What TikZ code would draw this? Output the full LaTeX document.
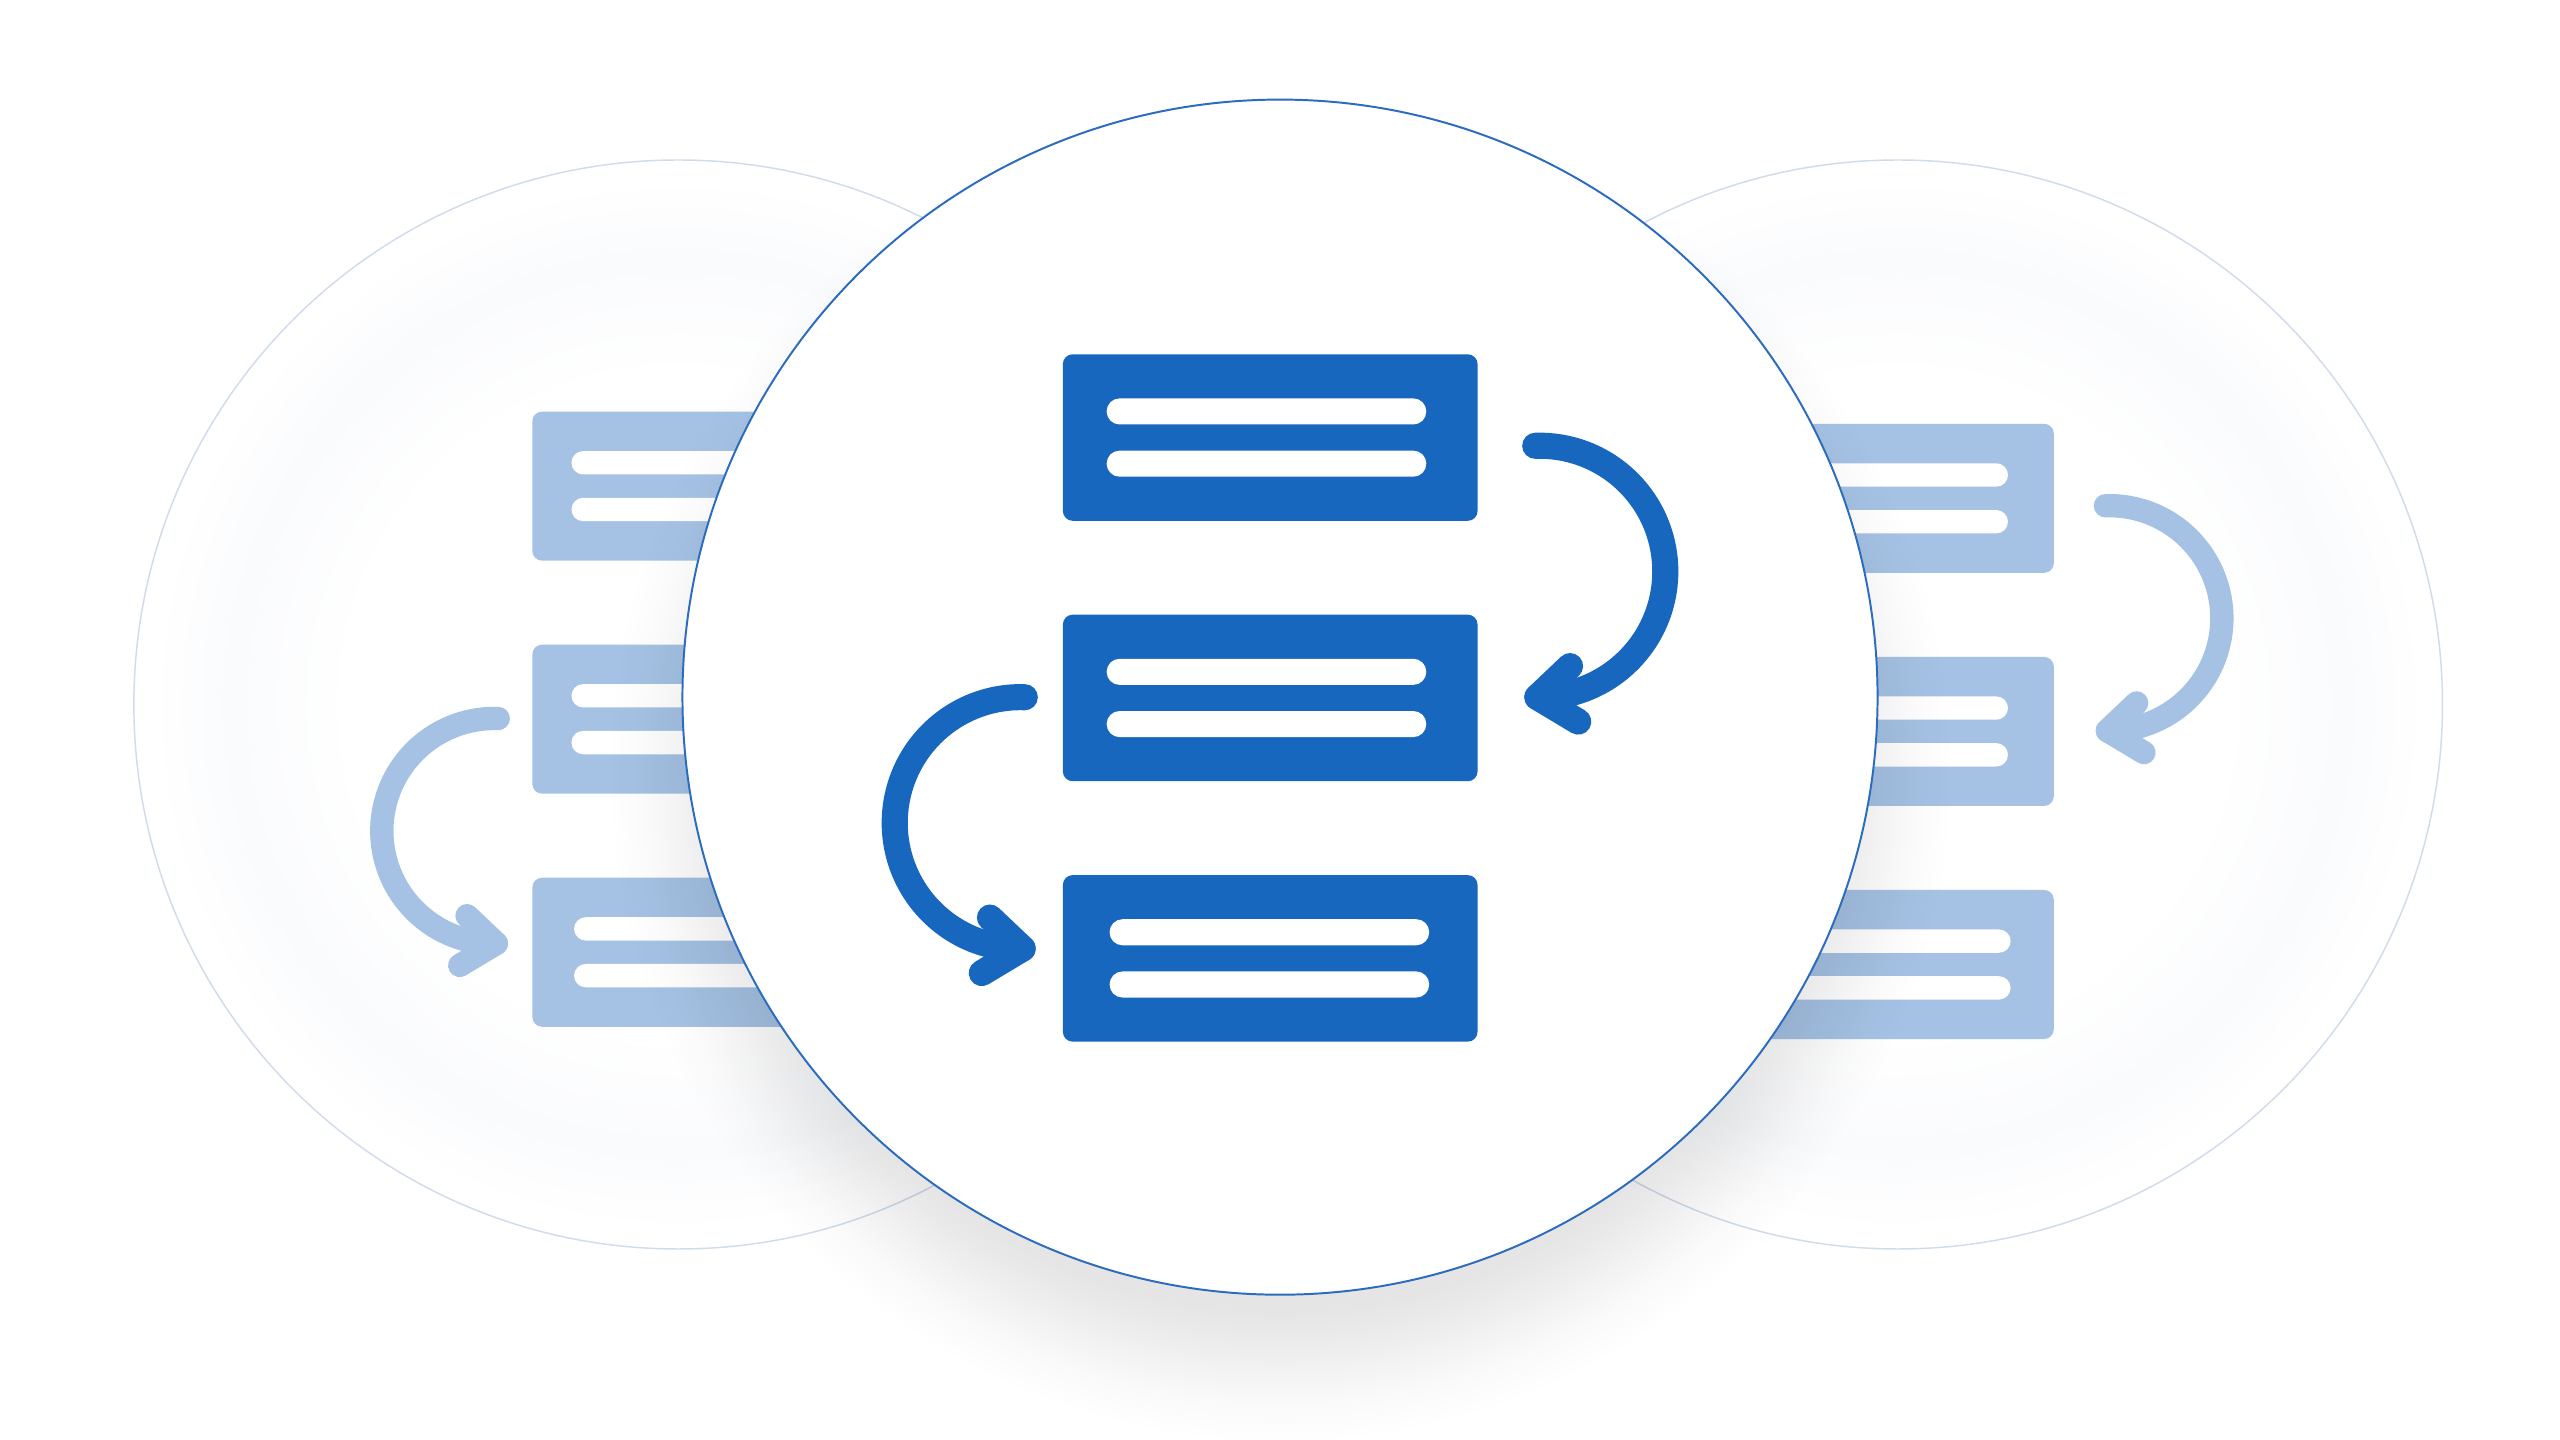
\documentclass[tikz,border=0pt]{standalone}
\usetikzlibrary{shapes.misc,fadings}
\definecolor{mainblue}{RGB}{23,103,191}
\definecolor{paleblue}{RGB}{165,194,228}
\definecolor{rimblue}{RGB}{44,108,190}
\definecolor{rimgray}{RGB}{208,220,236}
\definecolor{hazetint}{RGB}{250,251,253}
\pgfdeclareradialshading{sidehaze}{\pgfpointorigin}{color(0bp)=(white); color(15bp)=(white); color(20.5bp)=(hazetint); color(24.2bp)=(white); color(50bp)=(white)}
\pgfdeclareradialshading{shadowprofile}{\pgfpointorigin}{color(0bp)=(white); color(20.1bp)=(white); color(21.2bp)=(black!22); color(22.4bp)=(black!52); color(23.6bp)=(black!80); color(25bp)=(black); color(50bp)=(black)}
\pgfdeclarefading{shadowfade}{\pgfuseshading{shadowprofile}}
\newcommand{\gs}{1}
\tikzset{
  box/.style={rectangle, draw=none, fill=grpcol, rounded corners=3pt, minimum width=127pt, minimum height=51pt, inner sep=0pt, outer sep=0pt, transform shape},
  bar/.style={rounded rectangle, draw=none, fill=white, minimum width=97.9pt, minimum height=8pt, inner sep=0pt, outer sep=0pt, transform shape},
  flow/.style={draw=grpcol, line width=\gs*8pt, line cap=round, line join=round},
  siderim/.style={draw=rimgray, line width=0.45pt},
  mainrim/.style={draw=rimblue, line width=0.6pt, fill=white},
  sidedisc/.style={shading=sidehaze},
  castshadow/.style={fill=black, fill opacity=0.10, path fading=shadowfade},
}
\newcommand{\flowgroup}[3]{%
  \renewcommand{\gs}{#3}%
  \colorlet{grpcol}{#2}%
  \node[box] (#1b1) at (0,-159.5) {};
  \node[box] (#1b2) at (0,0) {};
  \node[box] (#1b3) at (0,159.5) {};
  \node[bar] (#1b1u) at (-2.3,-175.5) {};
  \node[bar] (#1b1l) at (-2.3,-143.5) {};
  \node[bar] (#1b2u) at (-2.3,-16) {};
  \node[bar] (#1b2l) at (-2.3,16) {};
  \node[bar] (#1b3u) at (-0.5,143.5) {};
  \node[bar] (#1b3l) at (-0.5,175.5) {};
  % arrow from box 1 to box 2 (right side)
  \coordinate (#1rs) at (162.3,-154.5);
  \coordinate (#1rt) at (163.66,-0.51);
  \draw[flow] plot[domain=-92:91, samples=90] ({165+77*cos(\x)},{-77.5+77*sin(\x)});
  \draw[flow] (#1rt) ++(20,-19) -- (#1rt) -- ++(25,15);
  % arrow from box 2 to box 3 (left side)
  \coordinate (#1ls) at (-150.3,-0.5);
  \coordinate (#1lt) at (-151.66,153.49);
  \draw[flow] plot[domain=-92:91, samples=90] ({-153-77*cos(\x)},{76.5+77*sin(\x)});
  \draw[flow] (#1lt) ++(-20,-19) -- (#1lt) -- ++(-25,15);
}
\begin{document}
\begin{tikzpicture}[x=0.5pt,y=-0.5pt]
\useasboundingbox (0,0) rectangle (1568,882);
\fill[white] (0,0) rectangle (1568,882);

% side circles
\shade[sidedisc] (415.5,431.5) circle[radius=333.5];
\shade[sidedisc] (1162.5,431.5) circle[radius=333.5];
\draw[siderim] (415.5,431.5) circle[radius=333.5];
\draw[siderim] (1162.5,431.5) circle[radius=333.5];

% left and right groups
\begin{scope}[shift={(439.7,440.5)}, scale=0.895]
  \flowgroup{L}{paleblue}{0.895}
\end{scope}
\begin{scope}[shift={(1144.3,448)}, scale=0.895]
  \flowgroup{R}{paleblue}{0.895}
\end{scope}

% shadow of the central circle
\fill[castshadow] (784,472) circle[radius=410];

% central circle
\draw[mainrim] (784,427) circle[radius=366];

% central group
\begin{scope}[shift={(778,427.5)}]
  \flowgroup{C}{mainblue}{1}
\end{scope}
\end{tikzpicture}
\end{document}
